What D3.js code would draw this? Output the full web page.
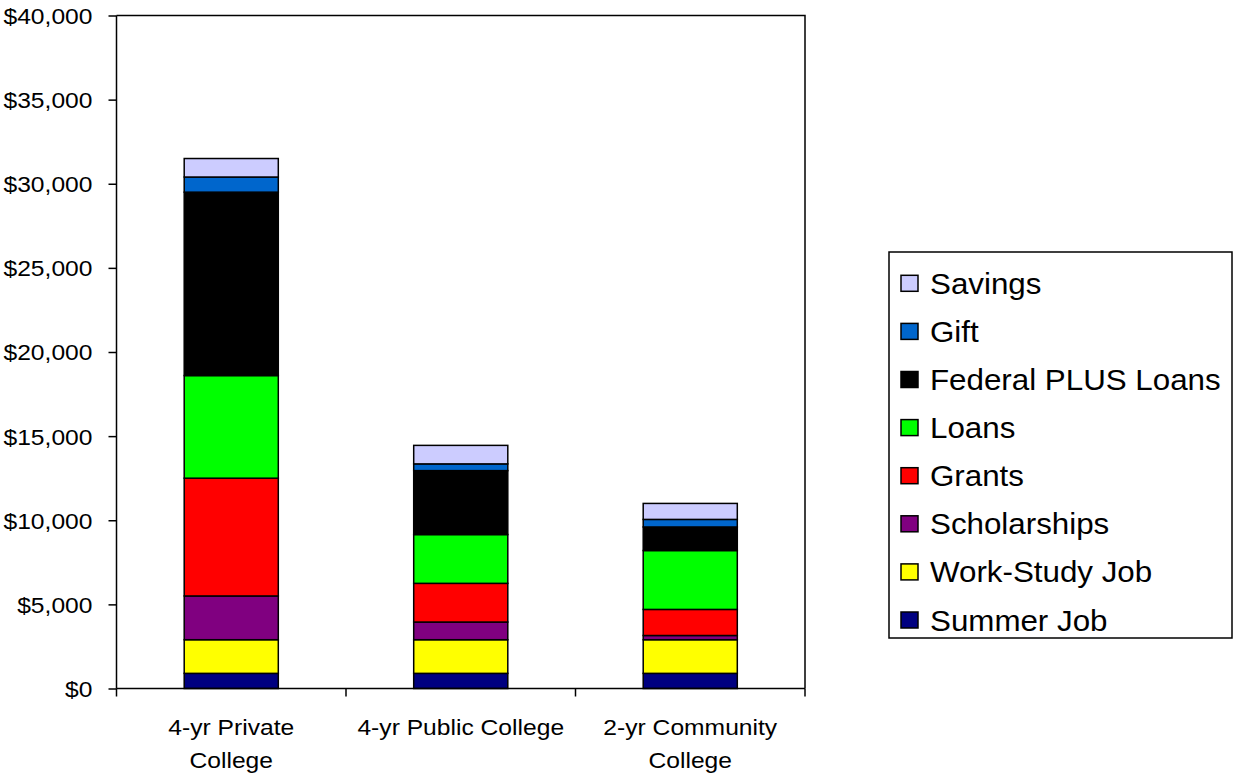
<!DOCTYPE html>
<html>
<head>
<meta charset="utf-8">
<script src="https://cdn.jsdelivr.net/npm/d3@7/dist/d3.min.js"></script>
<style>
  html, body { margin: 0; padding: 0; background: #fff; }
  svg { display: block; }
  text { font-family: Arial, "Liberation Sans", sans-serif; fill: #000; }
</style>
</head>
<body>
<svg id="chart" width="1233" height="777"></svg>
<script>
// Categories (x axis) and their wrapped label lines
const categories = ["4-yr Private College", "4-yr Public College", "2-yr Community College"];
const categoryLines = [["4-yr Private", "College"], ["4-yr Public College"], ["2-yr Community", "College"]];

// Funding sources, stacked bottom to top
const seriesNames = ["Summer Job", "Work-Study Job", "Scholarships", "Grants", "Loans", "Federal PLUS Loans", "Gift", "Savings"];
const seriesColors = ["#000080", "#FFFF00", "#800080", "#FF0000", "#00FF00", "#000000", "#0066CC", "#CCCCFF"];

const summerJob    = [900, 900, 900];
const workStudyJob = [2000, 2000, 2000];
const scholarships = [2600, 1050, 250];
const grants       = [7000, 2300, 1550];
const loans        = [6100, 2900, 3500];
const plusLoans    = [10900, 3800, 1400];
const gift         = [900, 400, 450];
const savings      = [1100, 1100, 950];

const yTicks = [0, 5000, 10000, 15000, 20000, 25000, 30000, 35000, 40000];

const seriesValues = [summerJob, workStudyJob, scholarships, grants, loans, plusLoans, gift, savings];

// Table for d3.stack: one row per category
const rows = categories.map((c, i) => {
  const r = { category: c };
  seriesNames.forEach((s, j) => { r[s] = seriesValues[j][i]; });
  return r;
});
const stacked = d3.stack().keys(seriesNames)(rows);

const svg = d3.select("#chart");
const plot = { left: 116.5, right: 805, top: 15.5, bottom: 688.5 };
const sx = 1.12;       // horizontal text stretch
const axisFont = 22;

const x = d3.scaleBand().domain(categories).range([plot.left, plot.right])
  .paddingInner(0.59).paddingOuter(0.295);
const y = d3.scaleLinear().domain([0, 40000]).range([plot.bottom, plot.top]);

// Plot frame (top and right edges)
svg.append("path")
  .attr("d", `M${plot.left},${plot.top}H${plot.right}V${plot.bottom}`)
  .attr("fill", "none").attr("stroke", "#000").attr("stroke-width", 1.5);

// Stacked bars
svg.append("g").selectAll("g").data(stacked).join("g")
  .attr("fill", (d, i) => seriesColors[i])
  .selectAll("rect").data(d => d).join("rect")
  .attr("x", d => x(d.data.category))
  .attr("width", x.bandwidth())
  .attr("y", d => y(d[1]))
  .attr("height", d => y(d[0]) - y(d[1]))
  .attr("stroke", "#000").attr("stroke-width", 1.5);

// Y axis
const yAxis = svg.append("g").attr("transform", `translate(${plot.left},0)`)
  .call(d3.axisLeft(y).tickValues(yTicks).tickSize(8).tickPadding(0)
    .tickFormat(v => "$" + d3.format(",")(v)));
yAxis.select(".domain").attr("stroke-width", 1.5).attr("d", `M0,${plot.top}V${plot.bottom}`);
yAxis.selectAll(".tick line").attr("stroke-width", 1.5);
yAxis.selectAll(".tick text")
  .attr("x", null).attr("dy", "0.36em")
  .attr("font-size", axisFont)
  .attr("transform", `translate(-24,0) scale(${sx},1)`);

// X axis line with boundary ticks
const xAxis = svg.append("g");
xAxis.append("line").attr("x1", plot.left).attr("x2", plot.right)
  .attr("y1", plot.bottom).attr("y2", plot.bottom)
  .attr("stroke", "#000").attr("stroke-width", 1.5);
const step = x.step();
d3.range(categories.length + 1).forEach(i => {
  const xp = plot.left + i * step;
  xAxis.append("line").attr("x1", xp).attr("x2", xp)
    .attr("y1", plot.bottom).attr("y2", plot.bottom + 8)
    .attr("stroke", "#000").attr("stroke-width", 1.5);
});
categories.forEach((c, i) => {
  const cx = x(c) + x.bandwidth() / 2;
  categoryLines[i].forEach((line, k) => {
    xAxis.append("text")
      .attr("text-anchor", "middle")
      .attr("font-size", axisFont)
      .attr("transform", `translate(${cx},${735 + k * 33}) scale(${sx},1)`)
      .text(line);
  });
});

// Legend (top entry is the top of the stack)
const legend = svg.append("g");
const lg = { x: 889, y: 252, w: 343, h: 386, rowTop: 283.3, rowStep: 48.1 };
legend.append("rect").attr("x", lg.x).attr("y", lg.y).attr("width", lg.w).attr("height", lg.h)
  .attr("fill", "#fff").attr("stroke", "#000").attr("stroke-width", 1.5);
const legendOrder = seriesNames.map((s, i) => i).reverse();
legendOrder.forEach((si, k) => {
  const cy = lg.rowTop + k * lg.rowStep;
  legend.append("rect").attr("x", 901).attr("y", cy - 8).attr("width", 17).attr("height", 16)
    .attr("fill", seriesColors[si]).attr("stroke", "#000").attr("stroke-width", 1.5);
  legend.append("text")
    .attr("font-size", 29)
    .attr("transform", `translate(930,${cy + 10.5}) scale(1.08,1)`)
    .text(seriesNames[si]);
});
</script>
</body>
</html>
